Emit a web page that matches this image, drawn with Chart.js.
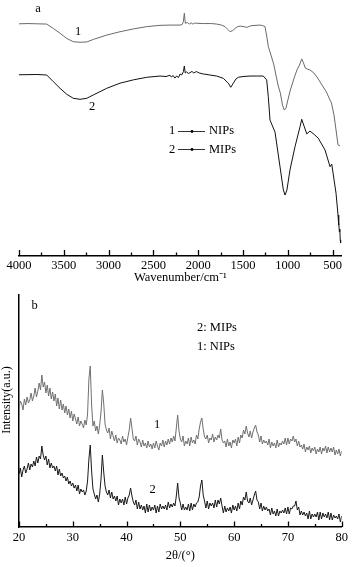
<!DOCTYPE html>
<html><head><meta charset="utf-8">
<script src="https://cdn.jsdelivr.net/npm/chart.js@4/dist/chart.umd.min.js"></script>
<style>
html,body{margin:0;padding:0;background:#fff;width:354px;height:567px;overflow:hidden}
canvas{position:absolute;left:0}
#c1{top:0}
#c2{top:290px}
</style></head><body>
<canvas id="c1" width="354" height="290"></canvas>
<canvas id="c2" width="354" height="277"></canvas>
<script>
// ---------- Panel a: FTIR ----------
const ftirWaveNIPs = [4000,3900,3800,3691,3617,3542,3468,3394,3319,3244,3171,3021,2873,2724,2575,2426,2315,2203,2180,2166,2155,2144,2120,2100,2080,2060,2040,2017,1943,1850,1794,1740,1701,1670,1645,1615,1589,1560,1532,1490,1459,1430,1400,1310,1280,1255,1232,1218,1199,1158,1110,1084,1060,1039,1020,1000,972,930,898,870,845,825,805,780,753,710,674,619,570,529,513,485,462,440,418];
const ftirNIPs = [90.7,90.8,90.7,90.6,88.9,87.0,85.0,83.7,83.5,83.6,84.6,86.3,87.6,88.7,89.6,90.1,90.2,90.2,90.4,91.5,94.8,90.9,91.2,90.6,91.1,90.6,91.0,90.9,90.8,90.8,90.6,90.2,89.6,88.5,87.6,88.1,88.9,89.6,89.8,89.6,89.3,89.7,90.0,90.2,90.0,89.6,85.2,81.8,79.7,75.0,66.8,63.7,59.0,57.0,57.8,60.9,64.8,69.5,72.7,74.6,77.0,75.4,73.4,73.0,72.7,71.5,69.9,66.8,64.1,60.9,59.8,55.1,49.2,43.4,43.0];
const ftirWaveMIPs = [4000,3800,3691,3617,3542,3468,3394,3319,3244,3171,3021,2873,2724,2575,2426,2360,2315,2300,2280,2260,2240,2220,2203,2185,2166,2155,2145,2130,2110,2092,2070,2050,2030,2017,1990,1943,1870,1794,1720,1664,1637,1608,1580,1553,1500,1422,1350,1274,1236,1218,1199,1143,1087,1050,1031,1010,976,920,864,845,789,753,700,660,585,529,510,462,440,435,430,425,420,415,410];
const ftirMIPs = [70.8,70.9,70.7,68.1,65.5,63.2,61.6,61.2,61.6,62.9,65.5,67.5,68.8,69.8,70.3,70.1,70.6,69.9,70.5,69.5,70.3,69.7,71.1,70.7,72.0,74.2,71.5,71.9,71.3,71.6,72.1,71.5,71.9,72.0,71.5,71.1,70.7,70.3,69.4,67.5,65.9,67.5,69.1,69.8,70.1,70.3,70.3,70.3,68.8,62.2,53.1,48.4,34.8,25.8,23.8,25.8,33.6,42.7,50.5,53.4,47.7,48.8,47.3,46.0,41.4,34.9,35.9,24.5,16.0,12.1,13.3,9.4,10.5,6.3,5.1];
const ftirMajorTicks = [4000,3500,3000,2500,2000,1500,1000,500];
const ftirMinorTicks = [3750,3250,2750,2250,1750,1250,750];

// ---------- Panel b: XRD ----------
const twoTheta = [
20,20.25,20.5,20.75,21,21.25,21.5,21.75,22,22.25,22.5,22.75,23,23.25,23.5,23.75,24,24.25,24.5,24.75,
25,25.25,25.5,25.75,26,26.25,26.5,26.75,27,27.25,27.5,27.75,28,28.25,28.5,28.75,29,29.25,29.5,29.75,
30,30.25,30.5,30.75,31,31.25,31.5,31.75,32,32.25,32.5,32.75,33,33.25,33.5,33.75,34,34.25,34.5,34.75,
35,35.25,35.5,35.75,36,36.25,36.5,36.75,37,37.25,37.5,37.75,38,38.25,38.5,38.75,39,39.25,39.5,39.75,
40,40.25,40.5,40.75,41,41.25,41.5,41.75,42,42.25,42.5,42.75,43,43.25,43.5,43.75,44,44.25,44.5,44.75,
45,45.25,45.5,45.75,46,46.25,46.5,46.75,47,47.25,47.5,47.75,48,48.25,48.5,48.75,49,49.25,49.5,49.75,
50,50.25,50.5,50.75,51,51.25,51.5,51.75,52,52.25,52.5,52.75,53,53.25,53.5,53.75,54,54.25,54.5,54.75,
55,55.25,55.5,55.75,56,56.25,56.5,56.75,57,57.25,57.5,57.75,58,58.25,58.5,58.75,59,59.25,59.5,59.75,
60,60.25,60.5,60.75,61,61.25,61.5,61.75,62,62.25,62.5,62.75,63,63.25,63.5,63.75,64,64.25,64.5,64.75,
65,65.25,65.5,65.75,66,66.25,66.5,66.75,67,67.25,67.5,67.75,68,68.25,68.5,68.75,69,69.25,69.5,69.75,
70,70.25,70.5,70.75,71,71.25,71.5,71.75,72,72.25,72.5,72.75,73,73.25,73.5,73.75,74,74.25,74.5,74.75,
75,75.25,75.5,75.75,76,76.25,76.5,76.75,77,77.25,77.5,77.75,78,78.25,78.5,78.75,79,79.25,79.5,79.75,
80];
const xrdNIPs = [
119,126,123,117, 128,122,130,124, 127,134,126,131, 139,130,136,144, 137,152,140,145,
134,142,131,139, 128,135,126,133, 121,129,118,127, 117,123,114,121, 112,118,109,116,
106,113,108,103, 110,101,106,103, 99,107,102,113, 148,161,122,101, 106,96,101,93,
102,115,137,124, 103,97,94,99, 88,96,91,86, 92,84,89,87, 83,91,85,88,
82,90,97,109, 99,88,86,91, 82,88,85,80, 87,81,84,79, 86,80,83,78,
84,79,86,81, 77,84,81,87, 80,86,82,88, 83,89,85,91, 86,99,112,96,
88,85,91,81, 86,83,89,81, 90,84,87,83, 92,88,98,105, 109,98,90,88,
92,84,89,87, 93,85,90,87, 92,89,98,87, 84,86,80,88, 81,85,79,87,
84,88,81,90, 84,92,89,97, 93,101,94,90, 96,89,95,99, 102,95,92,85,
91,83,87,84, 86,82,88,79, 85,81,84,79, 87,80,84,82, 86,83,89,82,
89,83,88,86, 91,85,88,81, 86,80,82,78, 83,75,80,77, 81,74,79,76,
80,73,78,75, 80,73,79,76, 81,74,80,75, 79,75,80,72, 77,73,78,71,
76];
const xrdMIPs = [
53,59,50,57, 61,54,58,64, 57,63,60,66, 61,70,64,71, 68,81,72,67,
71,62,68,59, 64,59,61,56, 61,52,58,51, 54,49,51,46, 50,43,46,41,
44,39,42,36, 42,33,38,35, 37,32,36,46, 68,82,56,38, 33,28,32,25,
33,48,72,55, 41,35,32,37, 29,35,28,31, 26,31,22,28, 24,28,22,30,
23,29,32,39, 31,25,22,27, 18,25,18,22, 17,21,14,23, 15,22,16,20,
17,22,14,21, 15,23,18,21, 18,22,17,25, 19,23,20,24, 21,31,44,29,
24,17,23,17, 20,17,23,16, 24,17,23,20, 24,25,30,41, 47,32,26,19,
26,18,24,21, 24,19,27,20, 27,23,29,21, 14,21,15,19, 16,20,14,22,
17,21,16,24, 18,26,22,30, 27,35,26,24, 29,22,27,32, 36,27,25,18,
24,16,21,17, 20,16,18,12, 19,13,16,11, 18,11,16,14, 17,14,19,13,
20,13,19,18, 21,21,26,17, 20,12,16,12, 15,11,14,8, 16,8,13,10,
13,10,15,7, 15,8,14,10, 13,9,15,7, 14,7,12,9, 11,8,13,5,
11];
const xrdMajorTicks = [20,30,40,50,60,70,80];
const xrdMinorTicks = [25,35,45,55,65,75];

const SERIF = "'Liberation Serif','Times New Roman',serif";
Chart.defaults.font.family = SERIF;
Chart.defaults.color = '#000';

function pts(xs, ys){ return xs.map((x,i)=>({x:x, y:ys[i]})); }

function tickMarks(major, minor, majLen, minLen){
  return {
    id:'tickMarks',
    afterDraw(chart){
      const ctx = chart.ctx, sx = chart.scales.x, b = chart.chartArea.bottom;
      ctx.save();
      ctx.strokeStyle = '#000'; ctx.lineWidth = 1.3;
      ctx.beginPath();
      major.forEach(v=>{ const p = Math.round(sx.getPixelForValue(v))+0.5; ctx.moveTo(p,b); ctx.lineTo(p,b-majLen); });
      minor.forEach(v=>{ const p = Math.round(sx.getPixelForValue(v))+0.5; ctx.moveTo(p,b); ctx.lineTo(p,b-minLen); });
      ctx.stroke();
      ctx.restore();
    }
  };
}

const annotA = {
  id:'annotA',
  afterDraw(chart){
    const ctx = chart.ctx;
    ctx.save();
    ctx.fillStyle = '#000';
    ctx.font = '12.5px ' + SERIF;
    ctx.textBaseline = 'middle';
    ctx.textAlign = 'center';
    ctx.fillText('a', 38, 9);
    ctx.fillText('1', 78, 32);
    ctx.fillText('2', 92, 107);
    ctx.fillText('1', 172, 131);
    ctx.fillText('2', 172, 149.5);
    ctx.textAlign = 'left';
    ctx.fillText('NIPs', 209, 131);
    ctx.fillText('MIPs', 209, 149.5);
    ctx.strokeStyle = '#333'; ctx.lineWidth = 1;
    ctx.beginPath();
    ctx.moveTo(178,131.5); ctx.lineTo(205,131.5);
    ctx.moveTo(178,149.5); ctx.lineTo(205,149.5);
    ctx.stroke();
    ctx.beginPath(); ctx.arc(192,131.5,1.4,0,Math.PI*2); ctx.fill();
    ctx.beginPath(); ctx.arc(192,149.5,1.4,0,Math.PI*2); ctx.fill();
    ctx.restore();
  }
};

const annotB = {
  id:'annotB',
  afterDraw(chart){
    const ctx = chart.ctx;
    ctx.save();
    ctx.fillStyle = '#000';
    ctx.font = '12.5px ' + SERIF;
    ctx.textBaseline = 'middle';
    ctx.textAlign = 'center';
    ctx.fillText('b', 34.5, 16);
    ctx.fillText('1', 157, 135);
    ctx.fillText('2', 152.5, 200);
    ctx.textAlign = 'left';
    ctx.fillText('2: MIPs', 197, 38);
    ctx.fillText('1: NIPs', 197, 57);
    ctx.translate(6.5, 110);
    ctx.rotate(-Math.PI/2);
    ctx.textAlign = 'center';
    ctx.font = '12px ' + SERIF;
    ctx.fillText('Intensity(a.u.)', 0, 0);
    ctx.restore();
  }
};

const lineDs = (label, data, color) => ({label, data, borderColor:color, borderWidth:1, pointRadius:0, tension:0, fill:false});

new Chart(document.getElementById('c1'), {
  type:'line',
  data:{datasets:[
    lineDs('NIPs', pts(ftirWaveNIPs, ftirNIPs), '#6a6a6a'),
    lineDs('MIPs', pts(ftirWaveMIPs, ftirMIPs), '#111111')
  ]},
  options:{
    responsive:false, animation:false, devicePixelRatio:1,
    layout:{padding:{left:19, right:12.4, top:0, bottom:0}},
    plugins:{legend:{display:false}, tooltip:{enabled:false}},
    scales:{
      x:{type:'linear', reverse:true, min:400, max:4000,
        afterBuildTicks: s => { s.ticks = ftirMajorTicks.map(v=>({value:v})); },
        afterFit: s => { s.height = 34; },
        grid:{display:false, drawTicks:false},
        border:{display:true, color:'#000', width:1.5},
        ticks:{padding:2.5, font:{size:12.5}, color:'#000', maxRotation:0, autoSkip:false, callback:v=>String(v)},
        title:{display:true, text:'Wavenumber/cm\u207B\u00B9', font:{size:12.5}, color:'#000', padding:{top:0, bottom:4.8}}
      },
      y:{display:false, min:0, max:100}
    }
  },
  plugins:[tickMarks(ftirMajorTicks, ftirMinorTicks, 6, 3.5), annotA]
});

new Chart(document.getElementById('c2'), {
  type:'line',
  data:{datasets:[
    lineDs('NIPs', pts(twoTheta, xrdNIPs), '#707070'),
    lineDs('MIPs', pts(twoTheta, xrdMIPs), '#1a1a1a')
  ]},
  options:{
    responsive:false, animation:false, devicePixelRatio:1,
    layout:{padding:{left:19, right:12.3, top:5, bottom:0}},
    plugins:{legend:{display:false}, tooltip:{enabled:false}},
    scales:{
      x:{type:'linear', min:20, max:80,
        afterBuildTicks: s => { s.ticks = xrdMajorTicks.map(v=>({value:v})); },
        afterFit: s => { s.height = 40; },
        grid:{display:false, drawTicks:false},
        border:{display:true, color:'#000', width:1.5},
        ticks:{padding:3, font:{size:12.5}, color:'#000', maxRotation:0, autoSkip:false, callback:v=>String(v)},
        title:{display:true, text:'2\u03B8/(\u00B0)', font:{size:12.5}, color:'#000', padding:{top:0, bottom:3.8}}
      },
      y:{min:0, max:232,
        afterFit: s => { s.width = 0; },
        ticks:{display:false},
        grid:{display:false, drawTicks:false},
        border:{display:true, color:'#000', width:1.5},
        title:{display:false}
      }
    }
  },
  plugins:[tickMarks(xrdMajorTicks, xrdMinorTicks, 5.5, 3), annotB]
});
</script>
</body></html>
